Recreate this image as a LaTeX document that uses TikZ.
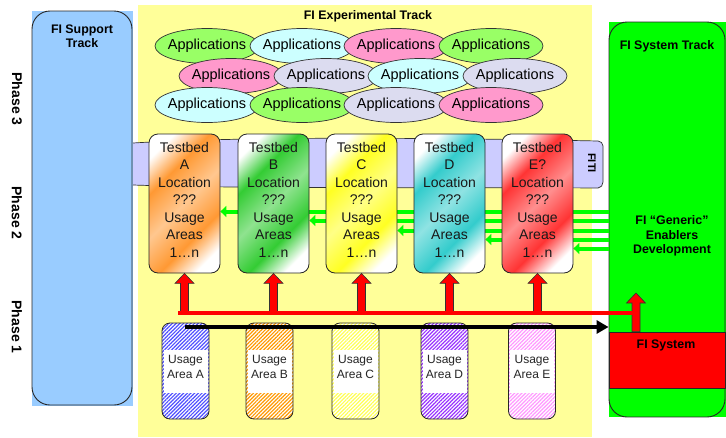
\documentclass[tikz,border=0pt]{standalone}
\usepackage{fontspec}
\setmainfont{Liberation Sans}
\usetikzlibrary{shapes.geometric,arrows.meta,patterns.meta,calc}
\definecolor{suppblue}{HTML}{99CCFF}
\definecolor{expyellow}{HTML}{FFFF99}
\definecolor{sysgreen}{HTML}{00FF00}
\definecolor{appgreen}{HTML}{99FF66}
\definecolor{appcyan}{HTML}{CCFFFF}
\definecolor{apppink}{HTML}{FF99CC}
\definecolor{applav}{HTML}{DCDCF0}
\definecolor{bandcol}{HTML}{CCCCFF}
\definecolor{colA}{HTML}{FF9933}
\definecolor{colB}{HTML}{33CC33}
\definecolor{colC}{HTML}{FFFF22}
\definecolor{colD}{HTML}{33CCCC}
\definecolor{colE}{HTML}{FF3333}
\definecolor{linegreen}{HTML}{00FF00}
\definecolor{hatchA}{HTML}{5050FF}
\definecolor{hatchB}{HTML}{FF9900}
\definecolor{hatchC}{HTML}{FFFF55}
\definecolor{hatchD}{HTML}{9933FF}
\definecolor{hatchE}{HTML}{FF99FF}
\colorlet{tbc}{orange}
\pgfdeclarehorizontalshading[tbc]{tbsh}{100bp}{color(0bp)=(white); color(23bp)=(white); color(35bp)=(tbc); color(50bp)=(tbc!55!white); color(65bp)=(tbc); color(77bp)=(white); color(100bp)=(white)}
\newcommand\setfs[2]{\fontsize{#1}{#2}\selectfont}
\pgfdeclarelayer{base}
\pgfdeclarelayer{links}
\pgfsetlayers{base,links,main}
\begin{document}
\begin{tikzpicture}[x=1pt,y=-1pt,
  track/.style={draw=black!85, line width=0.9pt, rounded corners=18pt, inner sep=0},
  app/.style={ellipse, draw=black!80, line width=0.7pt, minimum width=104pt, minimum height=35pt, inner sep=0, fill=#1, font=\setfs{14.5}{17}},
  tbcolor/.code={\colorlet{tbc}{#1}},
  testbed/.style={tbcolor=#1, shade, shading=tbsh, shading angle=-45, draw=black!85, line width=0.8pt, rounded corners=9pt, minimum width=71pt, minimum height=139pt, inner sep=0},
  tbtext/.style={align=center, font=\setfs{14}{17.5}, text=black!90, inner sep=0},
  ua/.style={draw=black!85, line width=0.8pt, rounded corners=8pt, minimum width=47pt, minimum height=96pt, inner sep=0, preaction={fill=white}, pattern={Lines[angle=45,distance=2.6pt,line width=1.2pt]}, pattern color=#1},
  uafill/.style={fill=white, minimum width=44pt, minimum height=43pt, inner sep=0},
  uatext/.style={align=center, font=\setfs{12}{15}, text=black!85, inner sep=0},
  garrow/.style={draw=linegreen, line width=4pt, -{Triangle[length=6pt,width=11pt]}},
  redln/.style={draw=red, line width=3.5pt},
  blockup/.style={draw=black!80, line width=0.6pt, fill=red, to path={let \p1=(\tikztostart), \p2=(\tikztotarget) in (\x1-4pt,\y1) -- (\x1-4pt,\y2-10pt) -- (\x1-9.5pt,\y2-10pt) -- (\x1,\y2) -- (\x1+9.5pt,\y2-10pt) -- (\x1+4pt,\y2-10pt) -- (\x1+4pt,\y1) -- cycle}},
  blkarrow/.style={draw=black, line width=4.5pt, -{Triangle[length=12pt,width=13pt]}},
  phaselbl/.style={rotate=-90, font=\bfseries\setfs{14}{16}, inner sep=0},
  ttl/.style={font=\bfseries\setfs{12.4}{14.5}, align=center, inner sep=0}
]
\useasboundingbox (0,0) rectangle (726,437);
\begin{pgfonlayer}{base}
\fill[white] (0,0) rectangle (726,437);
% support track
\fill[suppblue] (32,11) rectangle (133,406);
\node[track, minimum width=100pt, minimum height=394pt] (supp) at (82,208) {};
\node[ttl] (suppt) at (82,36) {FI Support\\Track};
% phases
\node[phaselbl] (ph3) at (17,99) {Phase 3};
\node[phaselbl] (ph2) at (17,213) {Phase 2};
\node[phaselbl] (ph1) at (17,327) {Phase 1};
% experimental track
\node[fill=expyellow, minimum width=454pt, minimum height=432pt, inner sep=0, anchor=north west] (exptr) at (138,5) {};
\node[ttl] (expt) at (368,16) {FI Experimental Track};
% system track
\fill[sysgreen] (609,22) rectangle (726,417);
\node[track, minimum width=116pt, minimum height=395pt] (systr) at (667,219.5) {};
\node[draw=black!85, line width=0.8pt, fill=red, minimum width=116pt, minimum height=56pt, inner sep=0] (fisys) at (667,360) {};
\node[ttl] (fisyst) at (666,345) {FI System};
\node[ttl] (systt) at (667,46) {FI System Track};
\node[ttl] (gent) at (672,236) {FI “Generic”\\Enablers\\Development};
% applications
\node[app=appgreen] (a11) at (207,46) {\makebox[0pt]{Applications}};
\node[app=appcyan]  (a12) at (302,46) {\makebox[0pt]{Applications}};
\node[app=apppink]  (a13) at (396,46) {\makebox[0pt]{Applications}};
\node[app=appgreen] (a14) at (491,46) {\makebox[0pt]{Applications}};
\node[app=apppink]  (a21) at (231,76) {\makebox[0pt]{Applications}};
\node[app=applav]   (a22) at (326,76) {\makebox[0pt]{Applications}};
\node[app=appcyan]  (a23) at (420,76) {\makebox[0pt]{Applications}};
\node[app=applav]   (a24) at (515,76) {\makebox[0pt]{Applications}};
\node[app=appcyan]  (a31) at (207,105) {\makebox[0pt]{Applications}};
\node[app=appgreen] (a32) at (302,105) {\makebox[0pt]{Applications}};
\node[app=applav]   (a33) at (396,105) {\makebox[0pt]{Applications}};
\node[app=apppink]  (a34) at (491,105) {\makebox[0pt]{Applications}};
% FITI band
\fill[bandcol] (133,143) .. controls (250,136) and (450,138) .. (598,141) to[out=0,in=90] (603,146) -- (603,182) to[out=-90,in=0] (598,188) .. controls (450,187) and (250,189) .. (133,185) -- cycle;
\draw[black!80, line width=0.7pt] (133,143) .. controls (250,136) and (450,138) .. (598,141) to[out=0,in=90] (603,146) -- (603,182) to[out=-90,in=0] (598,188) .. controls (450,187) and (250,189) .. (133,185);
\node[rotate=-90, font=\bfseries\setfs{11}{12}, inner sep=0] (fiti) at (592,163) {FITI};
\end{pgfonlayer}
% testbeds
\node[testbed=colA] (tbA) at (184.5,203.5) {};
\node[testbed=colB] (tbB) at (273.5,203.5) {};
\node[testbed=colC] (tbC) at (361.5,203.5) {};
\node[testbed=colD] (tbD) at (449.5,203.5) {};
\node[testbed=colE] (tbE) at (537.5,203.5) {};
\node[tbtext] (tbAt) at ([yshift=4pt]tbA.center) {Testbed\\A\\Location\\???\\Usage\\Areas\\1…n};
\node[tbtext] (tbBt) at ([yshift=4pt]tbB.center) {Testbed\\B\\Location\\???\\Usage\\Areas\\1…n};
\node[tbtext] (tbCt) at ([yshift=4pt]tbC.center) {Testbed\\C\\Location\\???\\Usage\\Areas\\1…n};
\node[tbtext] (tbDt) at ([yshift=4pt]tbD.center) {Testbed\\D\\Location\\???\\Usage\\Areas\\1…n};
\node[tbtext] (tbEt) at ([yshift=4pt]tbE.center) {Testbed\\E?\\Location\\???\\Usage\\Areas\\1…n};
% green links
\coordinate (gA) at (0,211.5);
\coordinate (gB) at (0,220.5);
\coordinate (gC) at (0,230.5);
\coordinate (gD) at (0,239.5);
\coordinate (gE) at (0,248.5);
\begin{pgfonlayer}{links}
\draw[garrow] (systr.west |- gA) -- (tbA.east |- gA);
\draw[garrow] (systr.west |- gB) -- (tbB.east |- gB);
\draw[garrow] (systr.west |- gC) -- (tbC.east |- gC);
\draw[garrow] (systr.west |- gD) -- (tbD.east |- gD);
\draw[garrow] (systr.west |- gE) -- (tbE.east |- gE);
\end{pgfonlayer}
% red arrows
\coordinate (rl) at (178,313);
\coordinate (fiarr) at (636,293);
\draw[blockup] (tbA.south |- rl) to (tbA.south);
\draw[blockup] (tbB.south |- rl) to (tbB.south);
\draw[blockup] (tbC.south |- rl) to (tbC.south);
\draw[blockup] (tbD.south |- rl) to (tbD.south);
\draw[blockup] (tbE.south |- rl) to (tbE.south);
\draw[blockup] (fiarr |- fisys.north) to (fiarr);
\draw[redln] (rl) -- (rl -| fiarr);
% usage areas
\node[ua=hatchA] (uaA) at (185.5,371) {};
\node[ua=hatchB] (uaB) at (269.5,371) {};
\node[ua=hatchC] (uaC) at (355.5,371) {};
\node[ua=hatchD] (uaD) at (444.5,371) {};
\node[ua=hatchE] (uaE) at (532,371) {};
\node[uafill] (uaAw) at (185.5,371.5) {};
\node[uafill] (uaBw) at (269.5,371.5) {};
\node[uafill] (uaCw) at (355.5,371.5) {};
\node[uafill] (uaDw) at (444.5,371.5) {};
\node[uafill] (uaEw) at (532,371.5) {};
\node[uatext] (uaAt) at (185.5,367) {Usage\\Area A};
\node[uatext] (uaBt) at (269.5,367) {Usage\\Area B};
\node[uatext] (uaCt) at (355.5,367) {Usage\\Area C};
\node[uatext] (uaDt) at (444.5,367) {Usage\\Area D};
\node[uatext] (uaEt) at (532,367) {Usage\\Area E};
% black arrow
\coordinate (bk) at (185,327);
\draw[blkarrow] (bk) -- (bk -| systr.west);
\end{tikzpicture}
\end{document}
